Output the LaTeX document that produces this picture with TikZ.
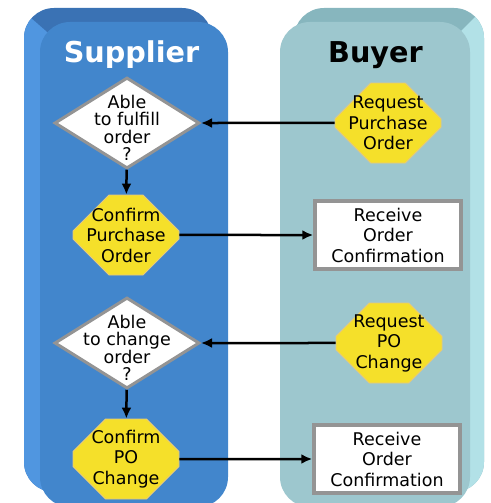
\documentclass[tikz,border=0pt]{standalone}
\usepackage{fontspec}
\setmainfont{DejaVu Sans}
\usetikzlibrary{shapes.geometric,shapes.misc,arrows.meta}
\definecolor{supfront}{RGB}{66,134,204}
\definecolor{suptop}{RGB}{58,114,180}
\definecolor{supside}{RGB}{80,150,224}
\definecolor{buyfront}{RGB}{157,199,206}
\definecolor{buytop}{RGB}{135,182,190}
\definecolor{buyside}{RGB}{178,225,231}
\definecolor{jaune}{RGB}{245,224,42}
\definecolor{bordjaune}{RGB}{228,200,128}
\definecolor{gris}{RGB}{148,148,148}

\tikzset{
  choix/.style={diamond, draw=gris, line width=3pt, fill=white,
    minimum width=145pt, minimum height=91pt, inner sep=0pt},
  choixtxt/.style={align=center, font=\fontsize{17.5}{17.5}\selectfont, inner sep=0pt},
  action/.style={chamfered rectangle, chamfered rectangle corners=all,
    chamfered rectangle xsep=21pt, chamfered rectangle ysep=21pt,
    draw=bordjaune, line width=0.8pt, fill=jaune, minimum width=106pt,
    minimum height=80pt, inner xsep=-20pt, inner ysep=-11pt, align=center,
    font=\fontsize{17.5}{20.5}\selectfont},
  recoit/.style={rectangle, draw=gris, line width=3.5pt, fill=white,
    minimum width=146pt, minimum height=68pt, inner sep=0pt, align=center,
    font=\fontsize{17.5}{20.5}\selectfont},
  titre/.style={anchor=base, font=\fontsize{28.7}{30}\selectfont\bfseries},
  fleche/.style={line width=2.5pt, -{Latex[length=11pt,width=10pt]}}
}

\begin{document}
\begin{tikzpicture}[x=1pt, y=-1pt]
  \useasboundingbox (0,0) rectangle (490,503);

  % couloir supplier
  \begin{scope}
    \clip[rounded corners=30pt] (24,8) rectangle (212,492);
    \fill[suptop] (0,0) rectangle (230,503);
    \fill[supside] (-1,-10) -- (214,178) -- (214,520) -- (-1,520) -- cycle;
  \end{scope}
  \fill[supfront, rounded corners=30pt] (40,22) rectangle (228,507);

  % couloir buyer
  \begin{scope}
    \clip[rounded corners=30pt] (294,8) rectangle (484,492);
    \fill[buytop] (270,0) rectangle (490,503);
    \fill[buyside] (510,-18) -- (314,178) -- (314,520) -- (510,520) -- cycle;
  \end{scope}
  \fill[buyfront, rounded corners=30pt] (280,22) rectangle (470,507);

  % titres
  \node[titre, text=white] (tsup) at (131.5,63) {Supplier};
  \node[titre, text=black] (tbuy) at (375.5,63) {Buyer};

  % commande
  \node[choix] (q1) at (127,123) {};
  \node[choixtxt, yshift=-5pt] (q1txt) at (q1) {Able\\to fulfill\\order\\?};
  \node[action] (reqpo) at (388,123) {Request\\Purchase\\Order};
  \node[action] (confpo) at (126,235) {Confirm\\Purchase\\Order};
  \node[recoit] (recv1) at (388,235) {Receive\\Order\\Confirmation};

  % changement
  \node[choix] (q2) at (127,343) {};
  \node[choixtxt, yshift=-5pt] (q2txt) at (q2) {Able\\to change\\order\\?};
  \node[action] (reqch) at (389,343) {Request\\PO\\Change};
  \node[action] (confch) at (126,459) {Confirm\\PO\\Change};
  \node[recoit] (recv2) at (387,459) {Receive\\Order\\Confirmation};

  % fleches
  \draw[fleche] (reqpo) -- (q1);
  \draw[fleche] (q1) -- (confpo);
  \draw[fleche] (confpo) -- (recv1);
  \draw[fleche] (reqch) -- (q2);
  \draw[fleche] (q2) -- (confch);
  \draw[fleche] (confch) -- (recv2);
\end{tikzpicture}
\end{document}
